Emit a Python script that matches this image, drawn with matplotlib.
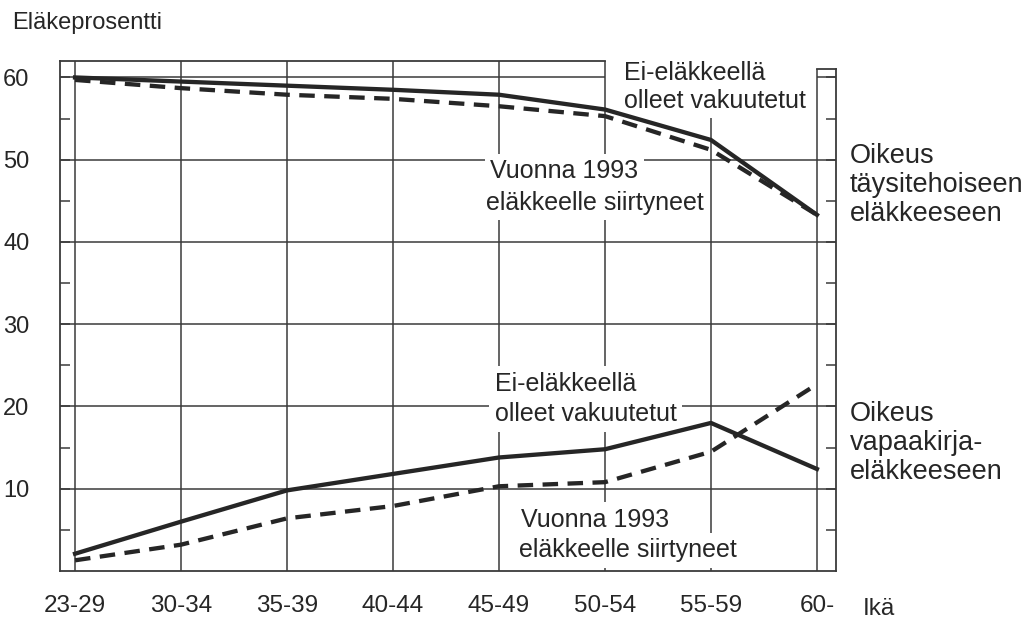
import numpy as np
import matplotlib.pyplot as plt

plt.rcParams['font.family'] = ['Liberation Sans', 'DejaVu Sans']

# ikäryhmät
ika = ['23-29', '30-34', '35-39', '40-44', '45-49', '50-54', '55-59', '60-']

# oikeus täysitehoiseen eläkkeeseen
tays_ei_elak = [60.0, 59.5, 59.0, 58.5, 57.9, 56.1, 52.4, 43.3]
tays_1993 = [59.7, 58.7, 57.9, 57.4, 56.5, 55.3, 51.2, 43.3]

# oikeus vapaakirjaeläkkeeseen
vapaa_ei_elak = [2.1, 6.0, 9.8, 11.8, 13.8, 14.8, 18.0, 12.4]
vapaa_1993 = [1.3, 3.2, 6.4, 7.9, 10.3, 10.8, 14.5, 22.7]

y_ticks = [10, 20, 30, 40, 50, 60]

ink = '#262626'
grid_c = '#3a3a3a'

fig = plt.figure(figsize=(10.23, 6.26), dpi=100)
ax = fig.add_axes([60 / 1023, 55 / 626, (836 - 60) / 1023, (571 - 61) / 626])

x = np.arange(len(ika))
xmin, xmax = -0.142, 7.18
ymax = 62.0
strip_top = 61.0
ax.set_xlim(xmin, xmax)
ax.set_ylim(0, ymax)

# ruudukko
ax.vlines(x[:-1], 0, ymax, color=grid_c, lw=1.1, zorder=1)
ax.vlines(x[-1], 0, strip_top, color=grid_c, lw=1.1, zorder=4)
ax.hlines(y_ticks[:-1], xmin, xmax, color=grid_c, lw=1.1, zorder=1)
ax.hlines(y_ticks[-1], xmin, 5, color=grid_c, lw=1.1, zorder=1)
ax.hlines(y_ticks[-1], 7, xmax, color=grid_c, lw=1.1, zorder=1)
ax.plot([xmin, 5], [ymax, ymax], color=grid_c, lw=1.3, clip_on=False, zorder=2)
ax.plot([7, xmax], [strip_top, strip_top], color=grid_c, lw=1.3, clip_on=False, zorder=4)

for s in ['left', 'bottom', 'right']:
    ax.spines[s].set_color(grid_c)
    ax.spines[s].set_linewidth(1.3)
ax.spines['top'].set_visible(False)
ax.spines['right'].set_bounds(0, strip_top)

# käyrät
ax.plot(x, tays_ei_elak, color=ink, lw=3.1, zorder=5)
ax.plot(x, tays_1993, color=ink, lw=3.1, dashes=(3.6, 2.2), zorder=5)
ax.plot(x, vapaa_ei_elak, color=ink, lw=3.1, zorder=5)
ax.plot(x, vapaa_1993, color=ink, lw=3.1, dashes=(3.6, 2.2), zorder=5)

ax.set_xticks(x)
ax.set_xticklabels(ika, fontsize=17.5, color=ink)
ax.tick_params(axis='x', length=0, pad=17)
ax.set_yticks(y_ticks)
ax.set_yticklabels([str(v) for v in y_ticks], fontsize=17, color=ink)
ax.set_yticks([5, 15, 25, 35, 45, 55], minor=True)
ax.tick_params(axis='y', which='both', direction='in', length=7, width=1.1,
               left=True, right=True, color=grid_c, pad=22)

# tekstit valkoisella taustalla
box = dict(boxstyle='square,pad=0.22', fc='white', ec='none')
rivit = [
    ('Ei-eläkkeellä', 5.18, 59.7),
    ('olleet vakuutetut', 5.18, 56.3),
    ('Vuonna 1993', 3.92, 47.75),
    ('eläkkeelle siirtyneet', 3.88, 43.9),
    ('Ei-eläkkeellä', 3.96, 21.9),
    ('olleet vakuutetut', 3.96, 18.2),
    ('Vuonna 1993', 4.21, 5.35),
    ('eläkkeelle siirtyneet', 4.19, 1.7),
]
for txt, tx, ty in rivit:
    ax.text(tx, ty, txt, fontsize=18, color=ink, ha='left', va='baseline',
            bbox=box, zorder=3, clip_on=False)

fig.text(12 / 1023, 1 - 29 / 626, 'Eläkeprosentti', fontsize=17, color=ink,
         ha='left', va='baseline')
fig.text(863 / 1023, 1 - 615 / 626, 'Ikä', fontsize=17.5, color=ink,
         ha='left', va='baseline')
fig.text(850 / 1023, 1 - 185 / 626, 'Oikeus\ntäysitehoiseen\neläkkeeseen',
         fontsize=19.5, color=ink, ha='left', va='center', linespacing=1.15)
fig.text(850 / 1023, 1 - 443 / 626, 'Oikeus\nvapaakirja-\neläkkeeseen',
         fontsize=19.5, color=ink, ha='left', va='center', linespacing=1.15)

fig.savefig('out.png', dpi=100, facecolor='white')
